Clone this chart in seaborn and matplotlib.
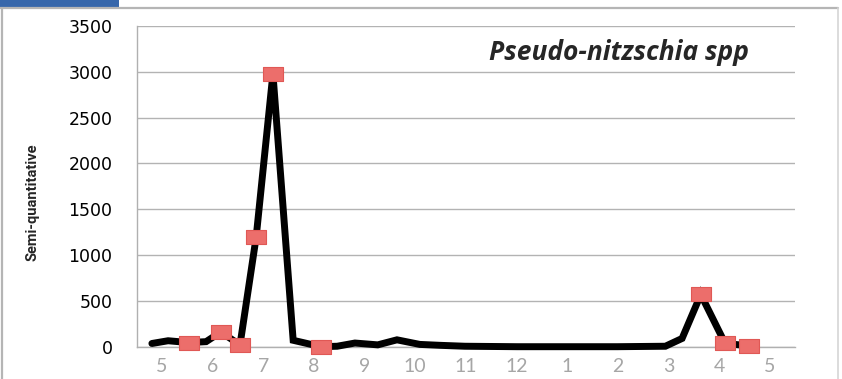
import numpy as np
import pandas as pd
import matplotlib
matplotlib.use("Agg")
import matplotlib.pyplot as plt
from matplotlib.path import Path
from matplotlib.patches import Rectangle
import seaborn as sns

# Sampling position in months since 1 May, and semi-quantitative abundance
month_pos = [0.30, 0.62, 1.03, 1.37, 1.66, 2.04, 2.36, 2.69, 3.09, 3.64,
             3.96, 4.31, 4.76, 5.14, 5.59, 5.99, 6.48, 7.51, 8.50, 9.49,
             10.44, 10.77, 11.14, 11.62, 12.09]
abundance = [35, 65, 45, 55, 160, 20, 1200, 2980, 70, 0,
             5, 40, 20, 75, 25, 15, 5, 0, 0, 0,
             5, 90, 570, 35, 10]
highlighted = [False, False, True, False, True, True, True, True, False, True,
               False, False, False, False, False, False, False, False, False, False,
               False, False, True, True, True]
month_labels = ["5", "6", "7", "8", "9", "10", "11", "12", "1", "2", "3", "4", "5"]
y_ticks = [0, 500, 1000, 1500, 2000, 2500, 3000, 3500]
title = "Pseudo-nitzschia spp"
y_label = "Semi-quantitative"

df = pd.DataFrame({"month": month_pos, "value": abundance, "mark": highlighted})

sns.set_theme(style="white")
W, H = 842, 379
fig = plt.figure(figsize=(W / 100, H / 100), dpi=100)

# panel frame and header strip
fig.patches.append(Rectangle((0, (H - 7) / H), 119 / W, 7 / H, transform=fig.transFigure,
                             facecolor="#3767ab", edgecolor="none", zorder=0))
fig.lines.append(plt.Line2D([0, 838 / W], [(H - 7.5) / H] * 2, transform=fig.transFigure,
                            color="#b5b5b5", lw=1.6))
fig.lines.append(plt.Line2D([1.5 / W] * 2, [0, (H - 7.5) / H], transform=fig.transFigure,
                            color="#b5b5b5", lw=1.6))
fig.lines.append(plt.Line2D([838 / W] * 2, [0, (H - 7.5) / H], transform=fig.transFigure,
                            color="#d5d5d5", lw=1.2))

left, right = 136.7, 795.0
top, bottom = 26.0, 346.7
ax = fig.add_axes([left / W, (H - bottom) / H, (right - left) / W, (bottom - top) / H])

sns.lineplot(data=df, x="month", y="value", ax=ax, color="black", lw=5.0,
             solid_joinstyle="miter", zorder=3, clip_on=False)

rect = Path([(-1, -0.68), (1, -0.68), (1, 0.68), (-1, 0.68), (-1, -0.68)],
            [Path.MOVETO, Path.LINETO, Path.LINETO, Path.LINETO, Path.CLOSEPOLY])
sns.scatterplot(data=df[df["mark"]], x="month", y="value", ax=ax, marker=rect, s=210,
                color="#ec6e6b", edgecolor="#e05855", linewidth=0.8, zorder=4, clip_on=False)

ax.set_xlim(0, 13)
ax.set_ylim(0, 3500)
ax.set_yticks(y_ticks)
ax.set_yticklabels([str(v) for v in y_ticks], fontsize=12.5, color="black",
                   family="DejaVu Sans")
ax.set_xticks(np.arange(0, 14))
ax.set_xticklabels([])
ax.set_xticks(np.arange(0.5, 13), minor=True)
ax.set_xticklabels(month_labels, minor=True, fontsize=14, color="#a6a6a6", family="Lato")
ax.tick_params(axis="x", which="major", length=4, width=1, color="#b0b0b0", direction="out")
ax.tick_params(axis="x", which="minor", length=0, pad=8)
ax.tick_params(axis="y", length=6, width=1, color="#b0b0b0", direction="out", pad=11.5)

ax.grid(axis="y", color="#b3b3b3", lw=1)
ax.set_axisbelow(True)
for side in ["top", "right"]:
    ax.spines[side].set_visible(False)
for side in ["left", "bottom"]:
    ax.spines[side].set_color("#b0b0b0")
    ax.spines[side].set_linewidth(1)

ax.set_xlabel("")
ax.set_ylabel("")
fig.text(32 / W, 1 - 202 / H, y_label, rotation=90, ha="center", va="center",
         fontsize=10.5, fontweight="bold", family=["Roboto", "DejaVu Sans"])
fig.text(619 / W, 1 - 52 / H, title, ha="center", va="center", fontsize=19,
         fontweight="bold", style="italic", family="Open Sans")

fig.savefig("out.png", dpi=100, facecolor="white")
